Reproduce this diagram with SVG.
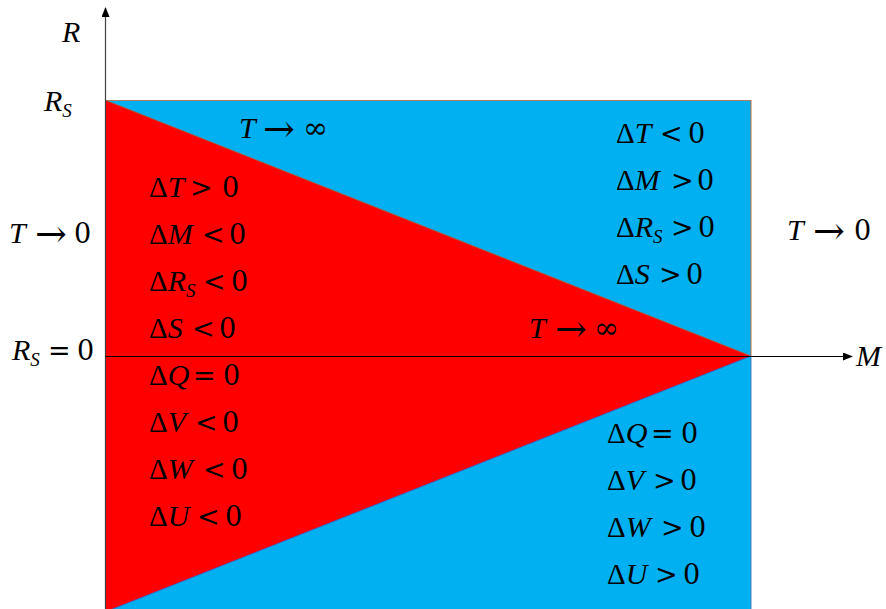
<svg xmlns="http://www.w3.org/2000/svg" width="886" height="609" viewBox="0 0 886 609">
<defs>
<style>
text{font-family:"Liberation Serif","Times New Roman",serif;font-size:29px;fill:#000}
.i{font-style:italic;font-size:30px}
.s{font-style:italic;font-size:19px}
.r{font-family:"DejaVu Serif",serif;font-size:27px}
.d{font-family:"DejaVu Serif",serif;font-size:27px}
.a{font-family:"DejaVu Serif",serif;font-size:38px}
.inf{font-family:"DejaVu Serif",serif;font-size:30px}
</style>
<marker id="ah" markerWidth="10" markerHeight="8" refX="9" refY="4" orient="auto" markerUnits="userSpaceOnUse">
<path d="M0,0 L10,4 L0,8 Z" fill="#000"/>
</marker>
</defs>
<rect width="886" height="609" fill="#fff"/>
<g id="regions">
<rect id="blue" x="105" y="100" width="646" height="520" fill="#00B0F0"/>
<polygon id="red" points="105,100 751,356 105,612" fill="#FF0000"/>
<line x1="105" y1="100.5" x2="751" y2="100.5" stroke="#A97F62" stroke-width="1.2"/>
<line x1="751" y1="100" x2="751" y2="356" stroke="#C0703A" stroke-width="1"/>
<line x1="751" y1="356" x2="751" y2="609" stroke="#4F81BD" stroke-width="1"/>
<line x1="105" y1="100" x2="751" y2="356" stroke="#A0604A" stroke-width="1"/>
<line x1="751" y1="356" x2="105" y2="612" stroke="#3F5FBD" stroke-width="1"/>
</g>
<g id="connectors">
<line x1="105.5" y1="609" x2="105.5" y2="8" stroke="#404040" stroke-width="1.2" marker-end="url(#ah)"/>
<line x1="105" y1="356.5" x2="852" y2="356.5" stroke="#000" stroke-width="1.2" marker-end="url(#ah)"/>
</g>
<g id="axis-labels">
<text x="62" y="42" class="i">R</text>
<text x="44" y="111"><tspan class="i">R</tspan><tspan class="s" dy="6">S</tspan></text>
<text x="12" y="360"><tspan class="i">R</tspan><tspan class="s" dy="6">S</tspan><tspan class="r" x="48" dy="-6">=</tspan><tspan class="d" x="77">0</tspan></text>
<text x="856" y="366" class="i">M</text>
<text x="9" y="243"><tspan class="i">T</tspan><tspan class="a" x="35" dy="4">→</tspan><tspan class="d" x="74" dy="-4">0</tspan></text>
<text x="787" y="240"><tspan class="i">T</tspan><tspan class="a" x="813" dy="4">→</tspan><tspan class="d" x="854" dy="-4">0</tspan></text>
<text x="239" y="138"><tspan class="i">T</tspan><tspan class="a" x="263" dy="4">→</tspan><tspan class="inf" x="303" dy="-4">∞</tspan></text>
<text x="529" y="338"><tspan class="i">T</tspan><tspan class="a" x="555" dy="4">→</tspan><tspan class="inf" x="594" dy="-4">∞</tspan></text>
</g>
<g id="left-column">
<text x="149" y="197"><tspan>Δ</tspan><tspan class="i">T</tspan><tspan class="r" x="190">&gt;</tspan><tspan class="d" x="222">0</tspan></text>
<text x="149" y="244"><tspan>Δ</tspan><tspan class="i">M</tspan><tspan class="r" x="202">&lt;</tspan><tspan class="d" x="229">0</tspan></text>
<text x="149" y="291"><tspan>Δ</tspan><tspan class="i">R</tspan><tspan class="s" dy="6">S</tspan><tspan class="r" x="203" dy="-6">&lt;</tspan><tspan class="d" x="231">0</tspan></text>
<text x="149" y="338"><tspan>Δ</tspan><tspan class="i">S</tspan><tspan class="r" x="192">&lt;</tspan><tspan class="d" x="219">0</tspan></text>
<text x="149" y="385"><tspan>Δ</tspan><tspan class="i">Q</tspan><tspan class="r" x="193">=</tspan><tspan class="d" x="223">0</tspan></text>
<text x="149" y="432"><tspan>Δ</tspan><tspan class="i">V</tspan><tspan class="r" x="195">&lt;</tspan><tspan class="d" x="222">0</tspan></text>
<text x="149" y="479"><tspan>Δ</tspan><tspan class="i">W</tspan><tspan class="r" x="203">&lt;</tspan><tspan class="d" x="231">0</tspan></text>
<text x="149" y="526"><tspan>Δ</tspan><tspan class="i">U</tspan><tspan class="r" x="197">&lt;</tspan><tspan class="d" x="225">0</tspan></text>
</g>
<g id="upper-right-column">
<text x="616" y="143"><tspan>Δ</tspan><tspan class="i">T</tspan><tspan class="r" x="660">&lt;</tspan><tspan class="d" x="688">0</tspan></text>
<text x="616" y="190"><tspan>Δ</tspan><tspan class="i">M</tspan><tspan class="r" x="671">&gt;</tspan><tspan class="d" x="697">0</tspan></text>
<text x="616" y="237"><tspan>Δ</tspan><tspan class="i">R</tspan><tspan class="s" dy="6">S</tspan><tspan class="r" x="671" dy="-6">&gt;</tspan><tspan class="d" x="698">0</tspan></text>
<text x="616" y="284"><tspan>Δ</tspan><tspan class="i">S</tspan><tspan class="r" x="659">&gt;</tspan><tspan class="d" x="686">0</tspan></text>
</g>
<g id="lower-right-column">
<text x="607" y="443"><tspan>Δ</tspan><tspan class="i">Q</tspan><tspan class="r" x="651">=</tspan><tspan class="d" x="681">0</tspan></text>
<text x="607" y="490"><tspan>Δ</tspan><tspan class="i">V</tspan><tspan class="r" x="653">&gt;</tspan><tspan class="d" x="680">0</tspan></text>
<text x="607" y="537"><tspan>Δ</tspan><tspan class="i">W</tspan><tspan class="r" x="661">&gt;</tspan><tspan class="d" x="689">0</tspan></text>
<text x="607" y="584"><tspan>Δ</tspan><tspan class="i">U</tspan><tspan class="r" x="655">&gt;</tspan><tspan class="d" x="683">0</tspan></text>
</g>
</svg>
